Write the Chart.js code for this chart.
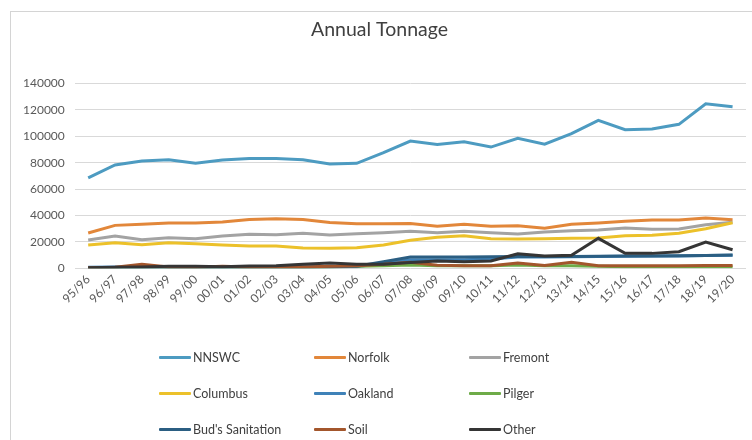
<!DOCTYPE html>
<html>
<head>
<meta charset="utf-8">
<script src="https://cdn.jsdelivr.net/npm/chart.js@4"></script>
<style>
  html, body { margin: 0; padding: 0; background: #fff; }
  #wrap { position: relative; width: 752px; height: 440px; overflow: hidden; background: #fff; }
  #frame { position: absolute; left: 10px; top: 11px; width: 800px; height: 500px; border-left: 1px solid #d4d4d4; border-top: 1px solid #d4d4d4; }
  #c { position: absolute; left: 0; top: 0; }
  .lg { position: absolute; font-family: Lato, "Open Sans", sans-serif; font-size: 12.5px; color: #404040; white-space: nowrap; display: flex; align-items: center; height: 16px; }
  .lg span.sw { display: inline-block; width: 32px; height: 3px; border-radius: 1px; margin-right: 2px; }
</style>
</head>
<body>
<div id="wrap">
  <div id="frame"></div>
  <canvas id="c" width="752" height="440"></canvas>
  <div id="legend"></div>
</div>
<script>
const categories = ["95/96","96/97","97/98","98/99","99/00","00/01","01/02","02/03","03/04","04/05","05/06","06/07","07/08","08/09","09/10","10/11","11/12","12/13","13/14","14/15","15/16","16/17","17/18","18/19","19/20"];

const nnswc    = [68500,78200,81200,82200,79500,82000,83200,83200,82200,79000,79500,87500,96300,93800,95800,91800,98400,94000,101900,112000,104900,105400,109000,124600,122300];
const norfolk  = [26700,32500,33300,34300,34300,35000,37000,37500,37000,34700,33800,33800,34000,31800,33300,31800,32300,30300,33300,34300,35600,36600,36600,38000,36800];
const fremont  = [21400,24400,21700,23200,22400,24400,25700,25400,26500,25200,26200,27000,28000,27000,28000,27000,26000,27500,28500,29000,30500,29500,29800,33000,34800];
const columbus = [17600,19400,17900,19400,18600,17600,16900,16900,15400,15100,15600,17600,21200,23500,24700,22400,22200,22400,22700,22900,24700,25000,26500,30000,34500];
const oakland  = [800,1000,800,700,700,700,700,800,800,900,1200,4000,6500,6500,6500,7000,8500,8500,8800,9000,9200,9300,9400,9600,9800];
const pilger   = [200,300,300,300,300,300,300,300,500,800,1500,2000,2500,2000,2000,2000,2500,2000,2000,1500,1200,1200,1200,1200,1200];
const buds     = [500,600,700,800,800,800,900,900,1000,1200,1500,5000,8500,8500,8500,8800,9000,9000,9000,9200,9300,9400,9500,9700,10000];
const soil     = [500,800,3000,1000,800,1500,1000,1000,1000,1500,2000,3000,4500,2300,2000,2000,4000,2200,4500,2000,2000,2000,2000,2200,2200];
const other    = [500,800,1000,1500,1500,1200,1800,2000,3000,4000,3000,3000,4300,5500,5000,5500,11000,9300,9800,22700,11300,11300,12600,19900,14000];

const seriesNames = ["NNSWC","Norfolk","Fremont","Columbus","Oakland","Pilger","Bud's Sanitation","Soil","Other"];
const seriesData = [nnswc, norfolk, fremont, columbus, oakland, pilger, buds, soil, other];
const seriesColors = ["#4d9bc1","#e2873a","#a3a3a3","#ecc12a","#3f82b8","#6eab48","#2b5e82","#a3562c","#353535"];

const yTicks = [0,20000,40000,60000,80000,100000,120000,140000];

const datasets = seriesNames.map((name, i) => ({
  label: name,
  data: seriesData[i],
  borderColor: seriesColors[i],
  backgroundColor: seriesColors[i],
  borderWidth: 3,
  pointRadius: 0,
  tension: 0,
  fill: false,
  order: seriesNames.length - i
}));

const FONT = "Lato, 'Open Sans', sans-serif";

new Chart(document.getElementById('c'), {
  type: 'line',
  data: { labels: categories, datasets },
  options: {
    responsive: false,
    animation: false,
    layout: { padding: { left: 13, right: 6, top: 0, bottom: 130 } },
    plugins: {
      legend: { display: false },
      tooltip: { enabled: false },
      title: {
        display: true,
        text: 'Annual Tonnage',
        color: '#404040',
        font: { family: FONT, size: 19.5, weight: 'normal' },
        padding: { top: 18, bottom: 42 }
      }
    },
    scales: {
      x: {
        offset: true,
        grid: { display: false, drawTicks: false },
        border: { display: false },
        ticks: {
          color: '#595959',
          font: { family: FONT, size: 12 },
          minRotation: 45, maxRotation: 45,
          autoSkip: false,
          padding: 4
        }
      },
      y: {
        min: 0, max: 140000,
        afterBuildTicks: (s) => { s.ticks = yTicks.map(v => ({ value: v })); },
        grid: { color: '#d9d9d9', drawTicks: false, lineWidth: 1 },
        border: { display: false },
        ticks: {
          color: '#595959',
          font: { family: FONT, size: 12 },
          padding: 10,
          callback: (v) => String(v)
        }
      }
    }
  }
});

// legend (3 columns x 3 rows)
const legendCols = [159, 314, 469];
const legendRows = [357, 393, 429];
const lg = document.getElementById('legend');
seriesNames.forEach((name, i) => {
  const d = document.createElement('div');
  d.className = 'lg';
  d.style.left = legendCols[i % 3] + 'px';
  d.style.top = (legendRows[Math.floor(i / 3)] - 8) + 'px';
  const sw = document.createElement('span');
  sw.className = 'sw';
  sw.style.background = seriesColors[i];
  d.appendChild(sw);
  d.appendChild(document.createTextNode(name));
  lg.appendChild(d);
});
</script>
</body>
</html>
